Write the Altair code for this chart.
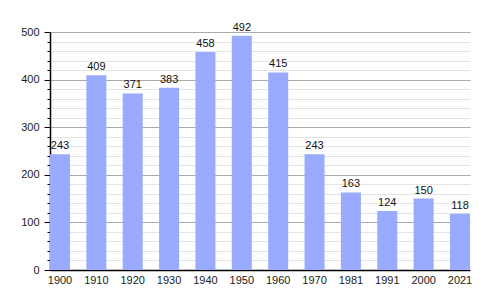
import altair as alt
import pandas as pd

years = ["1900", "1910", "1920", "1930", "1940", "1950", "1960", "1970", "1981", "1991", "2000", "2021"]
population = [243, 409, 371, 383, 458, 492, 415, 243, 163, 124, 150, 118]

df = pd.DataFrame({"year": years, "pop": population})

minor_values = list(range(0, 501, 20))

x = alt.X("year:N", sort=None, title=None,
          scale=alt.Scale(paddingInner=0.45, paddingOuter=0),
          axis=alt.Axis(labelAngle=0, ticks=False, domainColor="#000000", domainWidth=1.5,
                        labelFont="Liberation Sans", labelFontSize=11, labelColor="#1a1a1a",
                        labelPadding=4, grid=False))
y = alt.Y("pop:Q", title=None,
          scale=alt.Scale(domain=[0, 500], nice=False),
          axis=alt.Axis(values=minor_values,
                        labelExpr="datum.value % 100 === 0 ? datum.label : ''",
                        labelOverlap=False,
                        grid=True,
                        gridColor={"condition": {"test": "datum.value % 100 === 0", "value": "#aaaaaa"}, "value": "#e4e4e4"},
                        tickSize={"condition": {"test": "datum.value % 100 === 0", "value": 6}, "value": 3},
                        tickColor="#000000", domainColor="#000000", domainWidth=1.5,
                        labelFont="Liberation Sans", labelFontSize=11, labelColor="#1a1a1a",
                        labelPadding=5))

base = alt.Chart(df).encode(x=x, y=y)
bars = base.mark_bar(color="#99aaff")
labels = base.mark_text(baseline="bottom", dy=-3, font="Liberation Sans",
                        fontSize=11, color="#111111").encode(text="pop:Q")

chart = alt.layer(bars, labels).properties(
    width=420, height=238,
    autosize=alt.AutoSizeParams(type="none"),
    padding={"left": 50, "top": 32, "right": 30, "bottom": 30},
).configure_view(stroke=None)

chart.save("out.html", embed_options={"renderer": "svg", "actions": False})
